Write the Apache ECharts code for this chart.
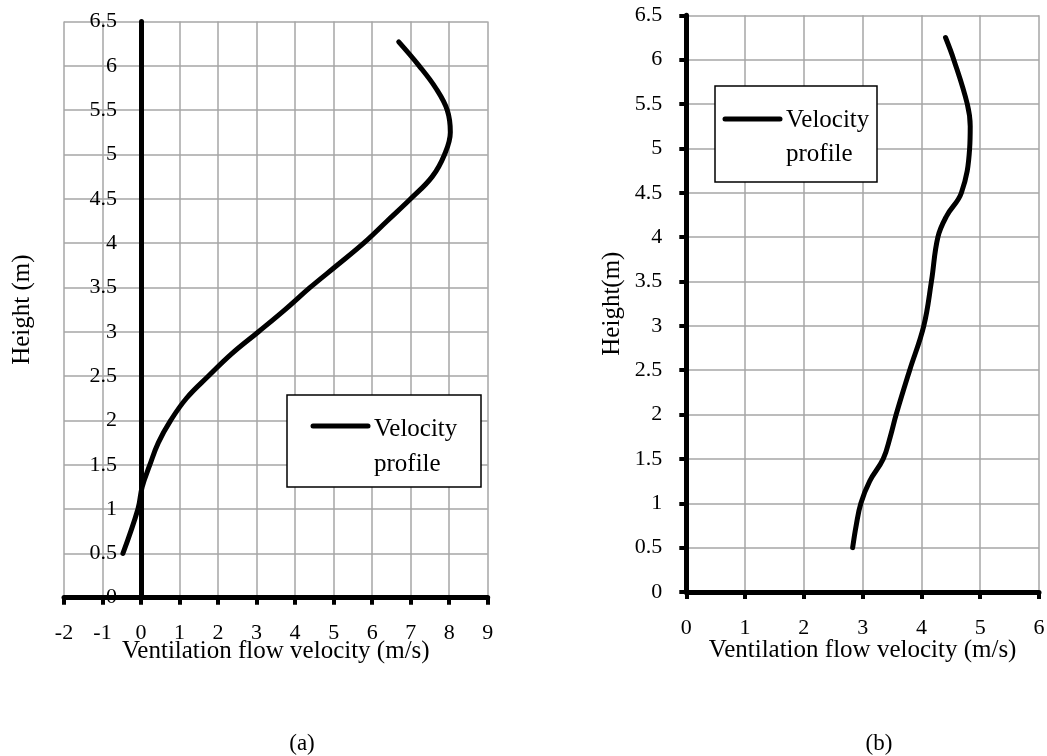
<!DOCTYPE html>
<html>
<head>
<meta charset="utf-8">
<script src="https://cdn.jsdelivr.net/npm/echarts@6/dist/echarts.min.js"></script>
<style>
  html, body { margin: 0; padding: 0; background: #fff; }
  #chart { width: 1047px; height: 756px; }
</style>
</head>
<body>
<div id="chart"></div>
<script>
// ---- Data ----
// Panel (a)
const velocityA = [-0.47, -0.08, 0.03, 0.23, 0.45, 0.77, 1.18, 1.75, 2.35, 3.05, 3.74, 4.39, 5.09, 5.78, 6.39, 7.0, 7.56, 7.88, 8.03, 7.95, 7.65, 7.22, 6.69];
const heightA   = [0.5, 1.0, 1.25, 1.5, 1.75, 2.0, 2.25, 2.5, 2.75, 3.0, 3.25, 3.5, 3.75, 4.0, 4.25, 4.5, 4.75, 5.0, 5.25, 5.5, 5.75, 6.0, 6.27];
// Panel (b)
const velocityB = [2.83, 2.89, 2.97, 3.12, 3.35, 3.47, 3.57, 3.80, 4.04, 4.17, 4.28, 4.43, 4.68, 4.82, 4.83, 4.78, 4.55, 4.41];
const heightB   = [0.5, 0.75, 1.0, 1.25, 1.5, 1.75, 2.0, 2.5, 3.0, 3.5, 4.0, 4.24, 4.5, 5.0, 5.25, 5.5, 6.0, 6.25];

const xRangeA = [-2, 9];
const xRangeB = [0, 6];
const yRange = [0, 6.5];
const seriesName = 'Velocity profile';
const legendLines = ['Velocity', 'profile'];
const xTitle = 'Ventilation flow velocity (m/s)';
const yTitleA = 'Height (m)';
const yTitleB = 'Height(m)';
const panelLabels = ['(a)', '(b)'];

// ---- Styling ----
const FONT = "'Liberation Serif', 'Times New Roman', serif";
const GRID_COLOR = '#a6a6a6';

function makeX(gridIndex, range, labelMargin, nameGap) {
  return {
    type: 'value', gridIndex, min: range[0], max: range[1], interval: 1,
    name: xTitle, nameLocation: 'middle', nameGap, nameMoveOverlap: false,
    nameTextStyle: { fontFamily: FONT, fontSize: 25, color: '#000' },
    axisLine: { show: true, onZero: false, lineStyle: { color: '#000', width: 5 } },
    axisTick: { show: true, inside: false, length: 7, lineStyle: { color: '#000', width: 4 } },
    axisLabel: { fontFamily: FONT, fontSize: 22, color: '#000', margin: labelMargin },
    splitLine: { show: true, lineStyle: { color: GRID_COLOR, width: 1.5 } }
  };
}
function makeY(gridIndex, name, nameGap, showTick, offset) {
  return {
    type: 'value', gridIndex, min: yRange[0], max: yRange[1], interval: 0.5,
    offset,
    name, nameLocation: 'middle', nameGap, nameRotate: 90, nameMoveOverlap: false,
    nameTextStyle: { fontFamily: FONT, fontSize: 25, color: '#000' },
    axisLine: { show: true, onZero: false, lineStyle: { color: '#000', width: 5 } },
    axisTick: { show: showTick, inside: false, length: 7, lineStyle: { color: '#000', width: 4 } },
    axisLabel: { fontFamily: FONT, fontSize: 22, color: '#000', margin: 24 },
    splitLine: { show: true, lineStyle: { color: GRID_COLOR, width: 1.5 } }
  };
}

function legendBox(x, y, w, h, lineY, lineX0, lineX1, textX, textY1, textY2) {
  return {
    type: 'group', z: 100,
    children: [
      { type: 'rect', shape: { x, y, width: w, height: h }, style: { fill: '#fff', stroke: '#000', lineWidth: 1.5 }, z: 100 },
      { type: 'line', shape: { x1: lineX0, y1: lineY, x2: lineX1, y2: lineY }, style: { stroke: '#000', lineWidth: 5, lineCap: 'round' }, z: 101 },
      { type: 'text', x: textX, y: textY1, style: { text: legendLines[0], font: '25px ' + FONT, fill: '#000', textAlign: 'left', textVerticalAlign: 'middle' }, z: 101 },
      { type: 'text', x: textX, y: textY2, style: { text: legendLines[1], font: '25px ' + FONT, fill: '#000', textAlign: 'left', textVerticalAlign: 'middle' }, z: 101 }
    ]
  };
}

// Grid (a): x from -2 to 9, y-axis sits at x = 0
const gridA = { left: 64, top: 21.5, width: 423.7, height: 576.2 };
const gridB = { left: 686.3, top: 15.3, width: 352.7, height: 576.7 };
const zeroOffsetA = -(0 - xRangeA[0]) / (xRangeA[1] - xRangeA[0]) * gridA.width;

const chart = echarts.init(document.getElementById('chart'), null, { renderer: 'canvas' });
chart.setOption({
  backgroundColor: '#fff',
  animation: false,
  title: [
    { text: panelLabels[0], left: 297, top: 727, textAlign: 'center', textStyle: { fontFamily: FONT, fontSize: 23, fontWeight: 'normal', color: '#000' } },
    { text: panelLabels[1], left: 874, top: 727, textAlign: 'center', textStyle: { fontFamily: FONT, fontSize: 23, fontWeight: 'normal', color: '#000' } }
  ],
  grid: [
    Object.assign({ containLabel: false, outerBoundsMode: 'none' }, gridA),
    Object.assign({ containLabel: false, outerBoundsMode: 'none' }, gridB)
  ],
  xAxis: [ makeX(0, xRangeA, 25, 41), makeX(1, xRangeB, 25, 46) ],
  yAxis: [ makeY(0, yTitleA, 106, false, zeroOffsetA), makeY(1, yTitleB, 61, true, 0) ],
  series: [
    {
      name: seriesName, type: 'line', xAxisIndex: 0, yAxisIndex: 0,
      data: velocityA.map((v, i) => [v, heightA[i]]),
      smooth: 0.4, showSymbol: false, symbol: 'none',
      lineStyle: { color: '#000', width: 5, cap: 'round' }, z: 5
    },
    {
      name: seriesName, type: 'line', xAxisIndex: 1, yAxisIndex: 1,
      data: velocityB.map((v, i) => [v, heightB[i]]),
      smooth: 0.4, showSymbol: false, symbol: 'none',
      lineStyle: { color: '#000', width: 5, cap: 'round' }, z: 5
    }
  ],
  graphic: [
    legendBox(287, 395, 194, 92, 426, 313, 368, 374, 429, 464),
    legendBox(715, 86, 162, 96, 119, 725, 780, 786, 120.5, 154)
  ]
});
</script>
</body>
</html>
